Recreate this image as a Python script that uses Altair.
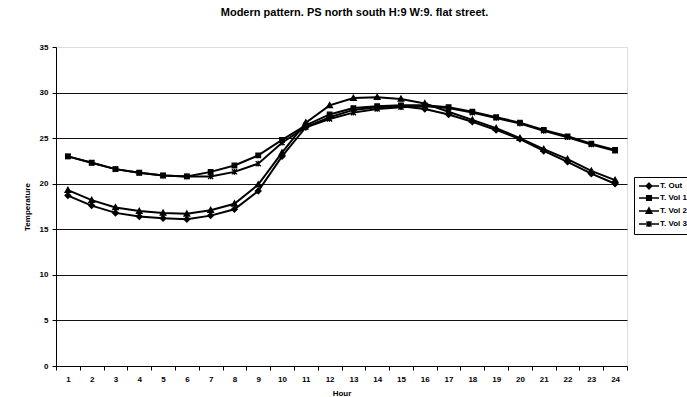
import altair as alt
import pandas as pd

hours = list(range(1, 25))
series_names = ["T. Out", "T. Vol 1", "T. Vol 2", "T. Vol 3"]
t_out = [18.7, 17.6, 16.8, 16.4, 16.2, 16.1, 16.5, 17.2, 19.2, 23.0, 26.2, 27.3,
         28.1, 28.4, 28.5, 28.2, 27.6, 26.8, 25.9, 24.9, 23.6, 22.4, 21.1, 20.0]
t_vol1 = [23.0, 22.3, 21.6, 21.2, 20.9, 20.8, 21.3, 22.0, 23.1, 24.8, 26.4, 27.6,
          28.3, 28.5, 28.6, 28.6, 28.4, 27.9, 27.3, 26.7, 25.9, 25.2, 24.4, 23.7]
t_vol2 = [19.3, 18.2, 17.4, 17.0, 16.8, 16.7, 17.1, 17.8, 19.9, 23.4, 26.7, 28.6,
          29.4, 29.5, 29.3, 28.8, 27.9, 27.0, 26.1, 25.0, 23.8, 22.7, 21.4, 20.4]
t_vol3 = [23.0, 22.3, 21.6, 21.2, 20.9, 20.8, 20.8, 21.3, 22.2, 24.5, 26.2, 27.1,
          27.8, 28.2, 28.4, 28.5, 28.3, 27.8, 27.2, 26.6, 25.8, 25.1, 24.3, 23.6]
y_ticks = [0, 5, 10, 15, 20, 25, 30, 35]

rows = []
for name, vals in zip(series_names, [t_out, t_vol1, t_vol2, t_vol3]):
    for h, v in zip(hours, vals):
        rows.append({"Hour": h, "Temperature": v, "Series": name})
df = pd.DataFrame(rows)

FONT = "Liberation Sans"

marker_paths = [
    "M0,-1L1,0L0,1L-1,0Z",
    "M-0.8,-0.8H0.8V0.8H-0.8Z",
    "M0,-1L1,0.8L-1,0.8Z",
    "M-0.9,-0.9L0.9,0.9M-0.9,0.9L0.9,-0.9M0,-1L0,1",
]
# legend symbols: a short line with the marker drawn by strokes (nested outlines)
legend_paths = [
    "M-2,0H2M0,-0.55L0.55,0L0,0.55L-0.55,0ZM0,-0.3L0.3,0L0,0.3L-0.3,0Z",
    "M-2,0H2M-0.45,-0.45H0.45V0.45H-0.45ZM-0.2,-0.2H0.2V0.2H-0.2Z",
    "M-2,0H2M0,-0.6L0.55,0.45L-0.55,0.45ZM0,-0.25L0.25,0.3L-0.25,0.3Z",
    "M-2,0H2M-0.5,-0.5L0.5,0.5M-0.5,0.5L0.5,-0.5M0,-0.6L0,0.6",
]

x_enc = alt.X(
    "Hour:O",
    scale=alt.Scale(type="band", paddingInner=0, paddingOuter=0),
    bandPosition=0.5,
    axis=alt.Axis(
        title="Hour", labelAngle=0, tickBand="extent", tickSize=4,
        labelPadding=5, titlePadding=6, domainColor="black", tickColor="black",
        labelFont=FONT, labelFontSize=8, labelFontWeight="bold", labelColor="black",
        titleFont=FONT, titleFontSize=8, titleFontWeight="bold", titleColor="black",
        grid=False,
    ),
)
y_enc = alt.Y(
    "Temperature:Q",
    scale=alt.Scale(domain=[0, 35], nice=False, zero=True),
    axis=alt.Axis(
        title="Temperature", values=y_ticks, tickSize=4, labelPadding=4,
        titlePadding=8, domainColor="black", tickColor="black",
        labelFont=FONT, labelFontSize=8, labelFontWeight="bold", labelColor="black",
        titleFont=FONT, titleFontSize=8, titleFontWeight="bold", titleColor="black",
        grid=True, gridColor="#111111", gridWidth=1.2,
        gridOpacity=alt.condition("datum.value == 35 || datum.value == 0", alt.value(0), alt.value(1)),
    ),
)

base = alt.Chart(df)

lines = base.mark_line(color="black", strokeWidth=2).encode(
    x=x_enc, y=y_enc, detail="Series:N"
)

points = base.mark_point(fill="black", stroke="black", strokeWidth=1.3, opacity=1, size=32).encode(
    x=x_enc, y=y_enc,
    shape=alt.Shape("Series:N", scale=alt.Scale(domain=series_names, range=marker_paths), legend=None),
)

legend_layer = base.transform_filter("false").mark_point(
    filled=False, color="black", strokeWidth=1.6, opacity=1
).encode(
    x=x_enc, y=y_enc,
    shape=alt.Shape(
        "Series:N",
        scale=alt.Scale(domain=series_names, range=legend_paths),
        legend=alt.Legend(
            title=None, orient="none", legendX=578, legendY=130,
            symbolSize=100, rowPadding=0, labelOffset=5, padding=3,
            symbolOffset=6,
            strokeColor="black", fillColor="white",
            labelFont=FONT, labelFontSize=8, labelFontWeight="bold", labelColor="black",
            symbolStrokeColor="black", symbolStrokeWidth=1.6,
            symbolOpacity=1,
        ),
    ),
)

chart = alt.layer(lines, points, legend_layer).resolve_scale(shape="independent").properties(
    width=571,
    height=319,
    autosize=alt.AutoSizeParams(type="none"),
    padding={"left": 56, "top": 47, "right": 60, "bottom": 31},
    title=alt.TitleParams(
        "Modern pattern. PS north south H:9 W:9. flat street.",
        font=FONT, fontSize=11, fontWeight="bold", color="black",
        anchor="middle", offset=25, dx=13,
    ),
).configure_view(stroke=None).configure(background="white")

chart.save("out.html", embed_options={"renderer": "svg", "actions": False})
